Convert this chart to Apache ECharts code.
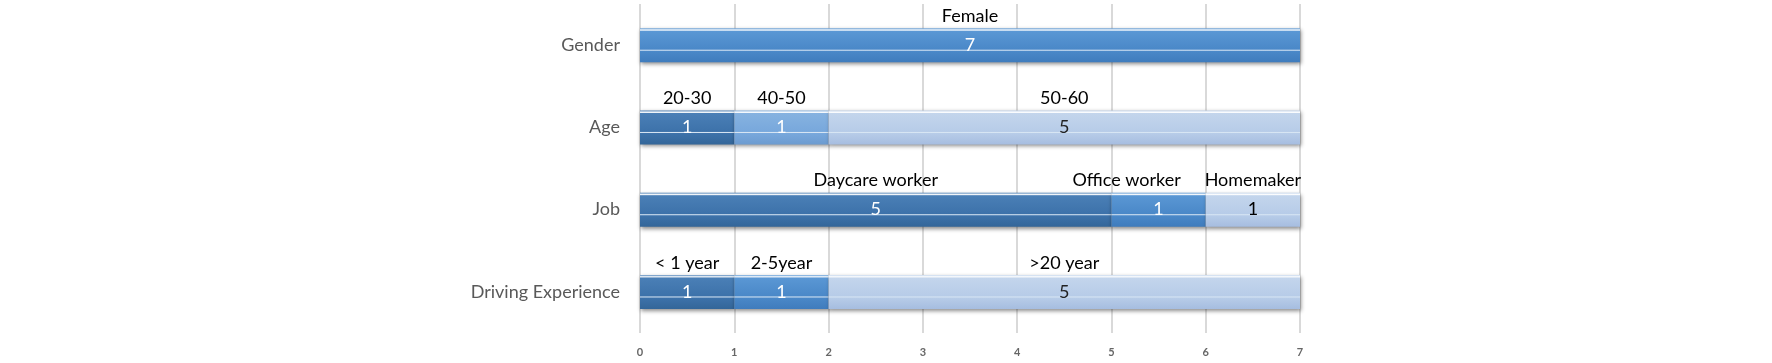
<!DOCTYPE html>
<html><head><meta charset="utf-8">
<script src="https://cdn.jsdelivr.net/npm/echarts@6/dist/echarts.min.js"></script>
<style>html,body{margin:0;padding:0;background:#fff}#c{width:1772px;height:363px}</style>
</head><body><div id="c"></div>
<script>
const categories = ['Gender', 'Age', 'Job', 'Driving Experience'];
const seg1Values = [7, 1, 5, 1];
const seg2Values = [null, 1, 1, 1];
const seg3Values = [null, 5, 1, 5];
const seg1Names = ['Female', '20-30', 'Daycare worker', '< 1 year'];
const seg2Names = ['', '40-50', 'Office worker', '2-5year'];
const seg3Names = ['', '50-60', 'Homemaker', '>20 year'];
const xTicks = [0, 1, 2, 3, 4, 5, 6, 7];

const FONT = 'Lato, "Open Sans", sans-serif';
function grad(top, mid, bot) {
  return {type: 'linear', x: 0, y: 0, x2: 0, y2: 1, colorStops: [
    {offset: 0, color: top}, {offset: 0.06, color: '#ffffff'}, {offset: 0.09, color: top},
    {offset: 0.62, color: mid}, {offset: 0.65, color: '#d8e6f4'}, {offset: 0.68, color: mid},
    {offset: 1, color: bot}]};
}
const DARK = grad('#4a7fb6', '#3d72aa', '#336699');
const MED = grad('#5a97d4', '#4a88c8', '#3f7cbd');
const LIGHTMED = grad('#86b2e0', '#78a8dc', '#6c9bd0');
const LIGHT = grad('#c3d5ec', '#b7cce8', '#a6bde0');

const segColors = [
  [MED, DARK, DARK, DARK],
  [null, LIGHTMED, MED, MED],
  [null, LIGHT, LIGHT, LIGHT]
];
const valueLabelColors = [
  ['#fff', '#fff', '#fff', '#fff'],
  ['#fff', '#fff', '#fff', '#fff'],
  ['#000', '#222', '#000', '#222']
];
const segVals = [seg1Values, seg2Values, seg3Values];
const segNames = [seg1Names, seg2Names, seg3Names];
const nameOffsets = {'1_2': [-32, 0]};

const series = [];
segVals.forEach((vals, s) => {
  series.push({
    type: 'bar', stack: 'v', barWidth: 34, barGap: '-100%',
    data: vals.map((v, i) => v == null ? null : {
      value: v,
      itemStyle: {color: segColors[s][i], shadowColor: 'rgba(0,0,0,0.45)', shadowBlur: 4, shadowOffsetY: 2, shadowOffsetX: 1},
      label: {color: valueLabelColors[s][i]}
    }),
    label: {show: true, position: 'inside', fontFamily: FONT, fontSize: 18, formatter: p => p.value},
    z: 2
  });
});
segVals.forEach((vals, s) => {
  series.push({
    type: 'bar', stack: 'n', barWidth: 34, barGap: '-100%',
    data: vals.map((v, i) => v == null ? null : {
      value: v,
      label: {offset: nameOffsets[s + '_' + i] || [0, 0]}
    }),
    itemStyle: {color: 'rgba(0,0,0,0)'},
    label: {show: true, position: 'top', distance: 3, fontFamily: FONT, fontSize: 18, color: '#000',
      formatter: p => segNames[s][p.dataIndex]},
    silent: true, z: 3
  });
});

const chart = echarts.init(document.getElementById('c'));
chart.setOption({
  animation: false,
  grid: {left: 640, right: 472, top: 4, bottom: 30},
  xAxis: {
    type: 'value', min: xTicks[0], max: xTicks[xTicks.length - 1], interval: 1,
    axisLine: {show: false}, axisTick: {show: false},
    splitLine: {lineStyle: {color: '#d9d9d9', width: 2}},
    axisLabel: {fontFamily: FONT, fontSize: 11, fontWeight: 'bold', color: '#666', margin: 14}
  },
  yAxis: {
    type: 'category', data: categories, inverse: true,
    axisLine: {show: false}, axisTick: {show: false},
    axisLabel: {fontFamily: FONT, fontSize: 18, color: '#595959', margin: 20}
  },
  series: series
});
</script></body></html>
